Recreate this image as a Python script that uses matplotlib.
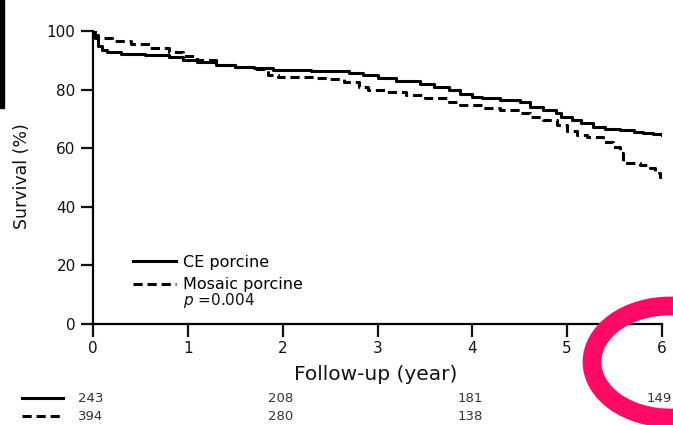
import matplotlib
matplotlib.use("Agg")
import matplotlib.pyplot as plt
from matplotlib.lines import Line2D
from matplotlib.patches import Ellipse, Rectangle
import matplotlib.transforms as mtransforms

plt.rcParams['font.family'] = ['DejaVu Sans']

# --- data ---
ce_years = [0, 0.02, 0.05, 0.09, 0.15, 0.3, 0.55, 0.8, 0.95, 1.1, 1.3, 1.5,
            1.7, 1.9, 2.3, 2.55, 2.7, 2.85, 3.0, 3.2, 3.45, 3.6, 3.75, 3.87,
            4.0, 4.1, 4.29, 4.5, 4.61, 4.75, 4.88, 4.94, 5.05, 5.15, 5.27,
            5.4, 5.56, 5.7, 5.8, 5.9, 6.0]
ce_surv = [100, 97.5, 95, 93.5, 92.8, 92.3, 91.8, 91, 90.2, 89.3, 88.3, 87.8,
           87.3, 86.8, 86.5, 86.2, 85.7, 85, 83.8, 83, 81.8, 80.8, 80, 78.5,
           77.5, 77, 76.5, 75.8, 74, 73, 72, 70.6, 69.5, 68.5, 67.2,
           66.7, 66.2, 65.6, 65.2, 64.8, 64.5]
mo_years = [0, 0.05, 0.2, 0.4, 0.6, 0.8, 0.95, 1.1, 1.3, 1.5, 1.7, 1.85,
            1.95, 2.35, 2.5, 2.65, 2.8, 2.9, 3.1, 3.3, 3.5, 3.75, 3.87, 4.1,
            4.29, 4.5, 4.61, 4.75, 4.89, 5.0, 5.1, 5.21, 5.38, 5.48, 5.56,
            5.59, 5.77, 5.87, 5.93, 5.98, 6.0]
mo_surv = [98.5, 97.5, 96.5, 95.5, 94.3, 93, 91.5, 90, 88.5, 87.8, 87, 85,
           84.3, 84, 83.5, 82.5, 81, 80, 79.3, 78, 77, 75.8, 74.7, 73.8,
           73, 72, 70.6, 69.6, 68, 66, 64.5, 63.8, 62, 60.4, 58.4,
           55, 54.3, 53.2, 51.5, 50.2, 50.2]

x_ticks = [0, 1, 2, 3, 4, 5, 6]
y_ticks = [0, 20, 40, 60, 80, 100]

risk_years = [0, 2, 4, 6]
ce_at_risk = [243, 208, 181, 149]
mo_at_risk = [394, 280, 138, 34]

series_labels = ["CE porcine", "Mosaic porcine"]
p_text = r"$\mathit{p}$ =0.004"

W, H = 673, 425
fig = plt.figure(figsize=(W / 100, H / 100), dpi=100)
ax = fig.add_axes([93 / W, 1 - 324 / H, (662 - 93) / W, (324 - 31) / H])

lw = 2.2
dash = (0, (3.0, 1.6))
ax.plot(ce_years, ce_surv, drawstyle='steps-post', color='black', lw=lw,
        label=series_labels[0])
ax.plot(mo_years, mo_surv, drawstyle='steps-post', color='black', lw=lw,
        linestyle=dash, label=series_labels[1])

ax.set_xlim(0, 6)
ax.set_ylim(0, 100)
ax.set_xticks(x_ticks)
ax.set_yticks(y_ticks)
for s in ['top', 'right']:
    ax.spines[s].set_visible(False)
for s in ['left', 'bottom']:
    ax.spines[s].set_linewidth(1.6)
ax.tick_params(axis='both', length=9, width=1.6, labelsize=11, pad=3.5,
               colors='#111111')

leg = ax.legend(loc='upper left', bbox_to_anchor=(133 / W, 1 - 255 / H),
                bbox_transform=fig.transFigure, frameon=False, fontsize=11.5,
                borderpad=0, borderaxespad=0, handlelength=2.7,
                handletextpad=0.45, labelspacing=0.45)
fig.text(183 / W, 1 - 300 / H, p_text, fontsize=11, ha='left', va='center',
         color='#111111')

fig.text(22 / W, 1 - 176 / H, "Survival (%)", rotation=90, ha='center',
         va='center', fontsize=12.5, color='#111111')
fig.text(376 / W, 1 - 375 / H, "Follow-up (year)", ha='center', va='center',
         fontsize=14.5, color='#111111')

# risk table
base = mtransforms.blended_transform_factory(ax.transData, fig.transFigure)
tr = base + mtransforms.ScaledTranslation(-2.5 / 100, 0, fig.dpi_scale_trans)
row_y = [1 - 399 / H, 1 - 416 / H]
for yy, vals in zip(row_y, [ce_at_risk, mo_at_risk]):
    for xv, v in zip(risk_years, vals):
        ax.text(xv, yy, str(v), transform=tr, ha='center', va='center',
                fontsize=9.5, color='#333333', clip_on=False)
fig.add_artist(Line2D([22 / W, 63 / W], [1 - 398 / H, 1 - 398 / H],
                      color='black', lw=lw, transform=fig.transFigure))
fig.add_artist(Line2D([22 / W, 63 / W], [1 - 416 / H, 1 - 416 / H],
                      color='black', lw=lw, linestyle=dash,
                      transform=fig.transFigure))

# decorations present in the reference image
fig.add_artist(Rectangle((0, 1 - 108 / H), 4 / W, 108 / H, color='black',
                         transform=fig.transFigure))
fig.add_artist(Ellipse((670 / W, 1 - 362 / H), 2 * 78 / W, 2 * 56 / H,
                       fill=False, edgecolor='#ff0a64', lw=13.5,
                       transform=fig.transFigure, zorder=10))

fig.savefig("out.png", dpi=100)
